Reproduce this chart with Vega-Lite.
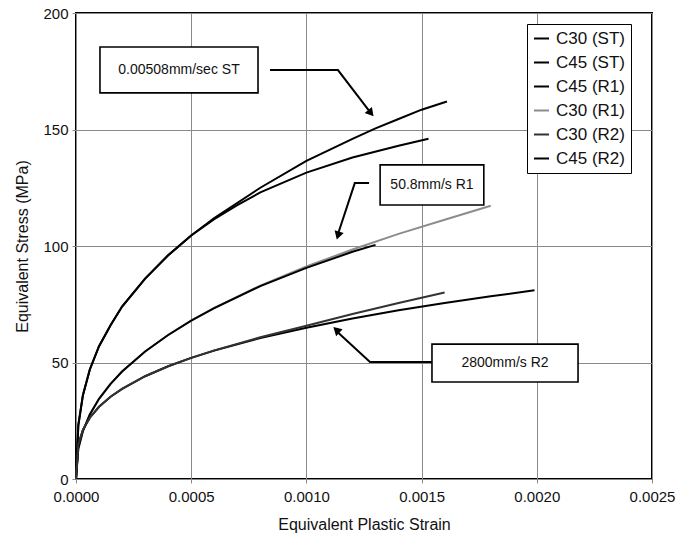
{
  "$schema": "https://vega.github.io/schema/vega-lite/v6.json",
  "width": 576,
  "height": 466,
  "autosize": {"type": "none"},
  "padding": {"left": 76, "top": 13, "right": 36, "bottom": 66},
  "background": "white",
  "config": {
    "view": {"stroke": "black", "strokeWidth": 2},
    "font": "Liberation Sans",
    "axis": {
      "grid": true,
      "gridColor": "#8a8a8a",
      "gridWidth": 1,
      "gridOpacity": 1,
      "domain": false,
      "tickColor": "#8a8a8a",
      "tickSize": 4,
      "labelFont": "Liberation Sans",
      "labelFontSize": 15,
      "labelColor": "#111",
      "labelFlush": false,
      "titleFont": "Liberation Sans",
      "titleFontSize": 16,
      "titleFontWeight": "normal",
      "titleColor": "#111"
    }
  },
  "encoding": {
    "x": {
      "field": "strain", "type": "quantitative",
      "scale": {"domain": [0, 0.0025], "nice": false},
      "axis": {"title": "Equivalent Plastic Strain", "format": ".4f", "values": [0, 0.0005, 0.001, 0.0015, 0.002, 0.0025], "labelPadding": 6, "titlePadding": 12}
    },
    "y": {
      "field": "stress", "type": "quantitative",
      "scale": {"domain": [0, 200], "nice": false},
      "axis": {"title": "Equivalent Stress (MPa)", "values": [0, 50, 100, 150, 200], "labelPadding": 4, "titlePadding": 12}
    }
  },
  "layer": [
    {
      "data": {"values": [
        {"series": "C30 (ST)", "strain": 0, "stress": 0},
        {"series": "C30 (ST)", "strain": 0.00001, "stress": 23},
        {"series": "C30 (ST)", "strain": 0.00003, "stress": 36},
        {"series": "C30 (ST)", "strain": 0.00006, "stress": 47},
        {"series": "C30 (ST)", "strain": 0.0001, "stress": 57},
        {"series": "C30 (ST)", "strain": 0.00015, "stress": 66},
        {"series": "C30 (ST)", "strain": 0.0002, "stress": 74},
        {"series": "C30 (ST)", "strain": 0.0003, "stress": 86},
        {"series": "C30 (ST)", "strain": 0.0004, "stress": 96},
        {"series": "C30 (ST)", "strain": 0.0005, "stress": 104.5},
        {"series": "C30 (ST)", "strain": 0.0006, "stress": 112},
        {"series": "C30 (ST)", "strain": 0.0008, "stress": 125},
        {"series": "C30 (ST)", "strain": 0.001, "stress": 136.5},
        {"series": "C30 (ST)", "strain": 0.0012, "stress": 146},
        {"series": "C30 (ST)", "strain": 0.0013, "stress": 150.5},
        {"series": "C30 (ST)", "strain": 0.0014, "stress": 154.5},
        {"series": "C30 (ST)", "strain": 0.0015, "stress": 158.5},
        {"series": "C30 (ST)", "strain": 0.00161, "stress": 162},
        {"series": "C45 (ST)", "strain": 0, "stress": 0},
        {"series": "C45 (ST)", "strain": 0.00001, "stress": 23},
        {"series": "C45 (ST)", "strain": 0.00003, "stress": 36},
        {"series": "C45 (ST)", "strain": 0.00006, "stress": 47},
        {"series": "C45 (ST)", "strain": 0.0001, "stress": 57},
        {"series": "C45 (ST)", "strain": 0.00015, "stress": 66},
        {"series": "C45 (ST)", "strain": 0.0002, "stress": 74},
        {"series": "C45 (ST)", "strain": 0.0003, "stress": 86},
        {"series": "C45 (ST)", "strain": 0.0004, "stress": 96},
        {"series": "C45 (ST)", "strain": 0.0005, "stress": 104.5},
        {"series": "C45 (ST)", "strain": 0.0006, "stress": 111.5},
        {"series": "C45 (ST)", "strain": 0.0007, "stress": 117.5},
        {"series": "C45 (ST)", "strain": 0.0008, "stress": 123},
        {"series": "C45 (ST)", "strain": 0.001, "stress": 131.5},
        {"series": "C45 (ST)", "strain": 0.0012, "stress": 138},
        {"series": "C45 (ST)", "strain": 0.0014, "stress": 143},
        {"series": "C45 (ST)", "strain": 0.00153, "stress": 146},
        {"series": "C30 (R1)", "strain": 0, "stress": 0},
        {"series": "C30 (R1)", "strain": 0.00001, "stress": 13},
        {"series": "C30 (R1)", "strain": 0.00003, "stress": 20.6},
        {"series": "C30 (R1)", "strain": 0.00006, "stress": 27.7},
        {"series": "C30 (R1)", "strain": 0.0001, "stress": 34.4},
        {"series": "C30 (R1)", "strain": 0.00015, "stress": 40.8},
        {"series": "C30 (R1)", "strain": 0.0002, "stress": 46.1},
        {"series": "C30 (R1)", "strain": 0.0003, "stress": 54.7},
        {"series": "C30 (R1)", "strain": 0.0004, "stress": 61.8},
        {"series": "C30 (R1)", "strain": 0.0005, "stress": 68},
        {"series": "C30 (R1)", "strain": 0.0006, "stress": 73.4},
        {"series": "C30 (R1)", "strain": 0.0008, "stress": 83},
        {"series": "C30 (R1)", "strain": 0.001, "stress": 91.2},
        {"series": "C30 (R1)", "strain": 0.0012, "stress": 98.5},
        {"series": "C30 (R1)", "strain": 0.0014, "stress": 105.2},
        {"series": "C30 (R1)", "strain": 0.0016, "stress": 111.3},
        {"series": "C30 (R1)", "strain": 0.0018, "stress": 117.3},
        {"series": "C45 (R1)", "strain": 0, "stress": 0},
        {"series": "C45 (R1)", "strain": 0.00001, "stress": 13},
        {"series": "C45 (R1)", "strain": 0.00003, "stress": 20.6},
        {"series": "C45 (R1)", "strain": 0.00006, "stress": 27.7},
        {"series": "C45 (R1)", "strain": 0.0001, "stress": 34.4},
        {"series": "C45 (R1)", "strain": 0.00015, "stress": 40.8},
        {"series": "C45 (R1)", "strain": 0.0002, "stress": 46.1},
        {"series": "C45 (R1)", "strain": 0.0003, "stress": 54.7},
        {"series": "C45 (R1)", "strain": 0.0004, "stress": 61.8},
        {"series": "C45 (R1)", "strain": 0.0005, "stress": 68},
        {"series": "C45 (R1)", "strain": 0.0006, "stress": 73.3},
        {"series": "C45 (R1)", "strain": 0.0008, "stress": 82.8},
        {"series": "C45 (R1)", "strain": 0.001, "stress": 90.6},
        {"series": "C45 (R1)", "strain": 0.0012, "stress": 97.5},
        {"series": "C45 (R1)", "strain": 0.0013, "stress": 100.5},
        {"series": "C45 (R2)", "strain": 0, "stress": 0},
        {"series": "C45 (R2)", "strain": 0.00001, "stress": 14.8},
        {"series": "C45 (R2)", "strain": 0.00003, "stress": 21.1},
        {"series": "C45 (R2)", "strain": 0.00006, "stress": 26.3},
        {"series": "C45 (R2)", "strain": 0.0001, "stress": 31},
        {"series": "C45 (R2)", "strain": 0.00015, "stress": 35.3},
        {"series": "C45 (R2)", "strain": 0.0002, "stress": 38.7},
        {"series": "C45 (R2)", "strain": 0.0003, "stress": 44.1},
        {"series": "C45 (R2)", "strain": 0.0004, "stress": 48.4},
        {"series": "C45 (R2)", "strain": 0.0005, "stress": 52},
        {"series": "C45 (R2)", "strain": 0.0006, "stress": 55.1},
        {"series": "C45 (R2)", "strain": 0.0008, "stress": 60.5},
        {"series": "C45 (R2)", "strain": 0.001, "stress": 64.9},
        {"series": "C45 (R2)", "strain": 0.0012, "stress": 68.9},
        {"series": "C45 (R2)", "strain": 0.0014, "stress": 72.4},
        {"series": "C45 (R2)", "strain": 0.0016, "stress": 75.5},
        {"series": "C45 (R2)", "strain": 0.0018, "stress": 78.4},
        {"series": "C45 (R2)", "strain": 0.00199, "stress": 81},
        {"series": "C30 (R2)", "strain": 0, "stress": 0},
        {"series": "C30 (R2)", "strain": 0.00001, "stress": 14.8},
        {"series": "C30 (R2)", "strain": 0.00003, "stress": 21.1},
        {"series": "C30 (R2)", "strain": 0.00006, "stress": 26.3},
        {"series": "C30 (R2)", "strain": 0.0001, "stress": 31},
        {"series": "C30 (R2)", "strain": 0.00015, "stress": 35.3},
        {"series": "C30 (R2)", "strain": 0.0002, "stress": 38.7},
        {"series": "C30 (R2)", "strain": 0.0003, "stress": 44.1},
        {"series": "C30 (R2)", "strain": 0.0004, "stress": 48.4},
        {"series": "C30 (R2)", "strain": 0.0005, "stress": 52},
        {"series": "C30 (R2)", "strain": 0.0006, "stress": 55.2},
        {"series": "C30 (R2)", "strain": 0.0008, "stress": 60.8},
        {"series": "C30 (R2)", "strain": 0.001, "stress": 65.8},
        {"series": "C30 (R2)", "strain": 0.0012, "stress": 70.8},
        {"series": "C30 (R2)", "strain": 0.0014, "stress": 75.5},
        {"series": "C30 (R2)", "strain": 0.0016, "stress": 80}
      ]},
      "mark": {"type": "line", "strokeWidth": 2},
      "encoding": {
        "color": {
          "field": "series", "type": "nominal",
          "scale": {
            "domain": ["C30 (ST)", "C45 (ST)", "C45 (R1)", "C30 (R1)", "C30 (R2)", "C45 (R2)"],
            "range": ["#000000", "#000000", "#000000", "#8c8c8c", "#333333", "#000000"]
          },
          "legend": {
            "title": null,
            "orient": "none",
            "legendX": 451,
            "legendY": 11,
            "symbolType": "stroke",
            "symbolStrokeWidth": 2,
            "symbolSize": 225,
            "labelFontSize": 17,
            "labelFont": "Liberation Sans",
            "labelColor": "#111",
            "labelOffset": 6,
            "rowPadding": 6,
            "padding": 6,
            "strokeColor": "black",
            "fillColor": "white"
          }
        }
      }
    },
    {
      "data": {"values": [
        {"box": "b1", "strain": 0.000104, "strain2": 0.00079, "stress": 165.7, "stress2": 185.4},
        {"box": "b2", "strain": 0.00132, "strain2": 0.00177, "stress": 117.6, "stress2": 134.8},
        {"box": "b3", "strain": 0.001545, "strain2": 0.002179, "stress": 41.6, "stress2": 57.9}
      ]},
      "mark": {"type": "rect", "fill": "white", "stroke": "black", "strokeWidth": 1.6},
      "encoding": {
        "x2": {"field": "strain2"},
        "y2": {"field": "stress2"}
      }
    },
    {
      "data": {"values": [
        {"label": "0.00508mm/sec ST", "strain": 0.000447, "stress": 175.5},
        {"label": "50.8mm/s R1", "strain": 0.001545, "stress": 126.2},
        {"label": "2800mm/s R2", "strain": 0.001862, "stress": 49.8}
      ]},
      "mark": {"type": "text", "fontSize": 14, "font": "Liberation Sans", "color": "#111", "align": "center", "baseline": "middle"},
      "encoding": {
        "text": {"field": "label"}
      }
    },
    {
      "data": {"values": [
        {"arrow": "a1", "o": 0, "strain": 0.000842, "stress": 175.5},
        {"arrow": "a1", "o": 1, "strain": 0.001137, "stress": 175.5},
        {"arrow": "a1", "o": 2, "strain": 0.00128, "stress": 157},
        {"arrow": "a2", "o": 0, "strain": 0.001272, "stress": 127},
        {"arrow": "a2", "o": 1, "strain": 0.00121, "stress": 127},
        {"arrow": "a2", "o": 2, "strain": 0.00114, "stress": 106},
        {"arrow": "a3", "o": 0, "strain": 0.001545, "stress": 50.2},
        {"arrow": "a3", "o": 1, "strain": 0.001276, "stress": 50.2},
        {"arrow": "a3", "o": 2, "strain": 0.00113, "stress": 63.5}
      ]},
      "mark": {"type": "line", "color": "black", "strokeWidth": 2},
      "encoding": {
        "detail": {"field": "arrow"},
        "order": {"field": "o"}
      }
    },
    {
      "data": {"values": [{"strain": 0.00128, "stress": 157}]},
      "mark": {"type": "point", "shape": "triangle-up", "filled": true, "color": "black", "opacity": 1, "size": 90, "angle": 140}
    },
    {
      "data": {"values": [{"strain": 0.001137, "stress": 104.5}]},
      "mark": {"type": "point", "shape": "triangle-up", "filled": true, "color": "black", "opacity": 1, "size": 90, "angle": 197}
    },
    {
      "data": {"values": [{"strain": 0.00113, "stress": 64}]},
      "mark": {"type": "point", "shape": "triangle-up", "filled": true, "color": "black", "opacity": 1, "size": 90, "angle": 313}
    }
  ]
}
